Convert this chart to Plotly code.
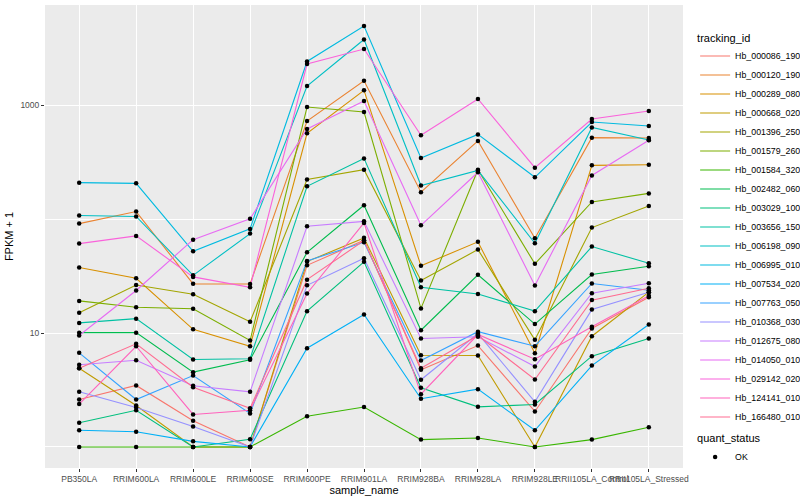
import plotly.graph_objects as go

samples = ["PB350LA", "RRIM600LA", "RRIM600LE", "RRIM600SE", "RRIM600PE", "RRIM901LA",
           "RRIM928BA", "RRIM928LA", "RRIM928LE", "RRII105LA_Control", "RRII105LA_Stressed"]

tracking_ids = ["Hb_000086_190", "Hb_000120_190", "Hb_000289_080", "Hb_000668_020", "Hb_001396_250",
                "Hb_001579_260", "Hb_001584_320", "Hb_002482_060", "Hb_003029_100", "Hb_003656_150",
                "Hb_006198_090", "Hb_006995_010", "Hb_007534_020", "Hb_007763_050", "Hb_010368_030",
                "Hb_012675_080", "Hb_014050_010", "Hb_029142_020", "Hb_124141_010", "Hb_166480_010"]

colors = ["#F8766D", "#EA8331", "#D89000", "#C09B00", "#A3A500", "#7CAE00", "#39B600", "#00BB4E",
          "#00BF7D", "#00C1A3", "#00BFC4", "#00BAE0", "#00B0F6", "#35A2FF", "#9590FF", "#C77CFF",
          "#E76BF3", "#FA62DB", "#FF62BC", "#FF6C91"]

# FPKM + 1, one list per tracking_id, in sample order
Hb_000086_190 = [2.61, 3.47, 1.70, 1.0, 39.4, 65.4, 4.76, 7.78, 2.05, 11.0, 20.7]
Hb_000120_190 = [91.7, 117, 27.1, 27.0, 731, 1651, 173, 488, 68.1, 522, 518]
Hb_000289_080 = [37.7, 30.3, 10.8, 7.67, 569, 1358, 39.0, 63.4, 6.66, 298, 302]
Hb_000668_020 = [4.92, 2.31, 1.0, 1.0, 42.5, 68.7, 6.40, 6.36, 1.0, 9.40, 22.9]
Hb_001396_250 = [15.1, 26.5, 22.0, 12.6, 224, 273, 29.0, 54.2, 8.73, 84.6, 131]
Hb_001579_260 = [19.2, 16.9, 16.4, 8.61, 970, 877, 16.5, 273, 40.6, 142, 169]
Hb_001584_320 = [1.0, 1.0, 1.0, 1.0, 1.86, 2.24, 1.16, 1.20, 1.0, 1.16, 1.49]
Hb_002482_060 = [10.1, 10.1, 4.54, 5.83, 51.3, 133, 10.6, 32.5, 12.0, 32.7, 38.7]
Hb_003029_100 = [1.63, 2.10, 1.0, 1.17, 15.6, 42.3, 3.31, 2.25, 2.36, 6.27, 8.97]
Hb_003656_150 = [12.3, 13.4, 5.87, 5.95, 195, 343, 25.3, 22.1, 15.6, 57.6, 41.1]
Hb_006198_090 = [108, 106, 32.2, 74.9, 1483, 3802, 198, 269, 61.6, 642, 498]
Hb_006995_010 = [210, 207, 52.4, 82.4, 2438, 4989, 346, 557, 234, 716, 661]
Hb_007534_020 = [1.40, 1.36, 1.12, 1.0, 7.37, 14.6, 2.65, 3.22, 1.40, 5.19, 11.9]
Hb_007763_050 = [6.71, 2.61, 4.24, 1.97, 43.1, 62.8, 5.75, 10.3, 7.67, 27.3, 23.8]
Hb_010368_030 = [3.05, 2.22, 1.51, 1.0, 26.3, 45.5, 3.89, 9.92, 2.49, 16.1, 22.9]
Hb_012675_080 = [5.27, 5.78, 3.45, 3.05, 86.8, 96.0, 8.97, 9.28, 5.09, 22.4, 27.4]
Hb_014050_010 = [9.53, 23.7, 66.3, 101, 622, 1096, 88.6, 259, 26.2, 243, 495]
Hb_029142_020 = [61.2, 71.5, 31.2, 25.3, 2314, 3133, 547, 1140, 284, 761, 895]
Hb_124141_010 = [2.38, 7.67, 1.93, 2.10, 22.3, 93.0, 2.91, 9.72, 5.90, 11.4, 21.3]
Hb_166480_010 = [4.92, 8.05, 3.35, 2.19, 29.5, 65.0, 4.92, 9.53, 3.91, 19.5, 24.8]

series = [Hb_000086_190, Hb_000120_190, Hb_000289_080, Hb_000668_020, Hb_001396_250,
          Hb_001579_260, Hb_001584_320, Hb_002482_060, Hb_003029_100, Hb_003656_150,
          Hb_006198_090, Hb_006995_010, Hb_007534_020, Hb_007763_050, Hb_010368_030,
          Hb_012675_080, Hb_014050_010, Hb_029142_020, Hb_124141_010, Hb_166480_010]

quant_status = "OK"

FONT = "Liberation Sans, Arial, Helvetica, sans-serif"

fig = go.Figure()
for name, col, vals in zip(tracking_ids, colors, series):
    fig.add_trace(go.Scatter(x=samples, y=vals, mode="lines", name=name,
                             line=dict(color=col, width=1.1), legend="legend"))

px_x, px_y = [], []
for vals in series:
    px_x.extend(samples)
    px_y.extend(vals)
fig.add_trace(go.Scatter(x=px_x, y=px_y, mode="markers", name=quant_status,
                         marker=dict(color="black", size=4.5), legend="legend2"))

fig.update_layout(
    width=800, height=500,
    margin=dict(l=45, r=117, t=5, b=32, autoexpand=False),
    paper_bgcolor="white", plot_bgcolor="#EBEBEB",
    font=dict(family=FONT, size=9, color="black"),
    xaxis=dict(type="category", categoryorder="array", categoryarray=samples,
               range=[-0.6, len(samples) - 0.4], showgrid=True, gridcolor="white", gridwidth=1.1,
               zeroline=False, showline=False, ticks="outside", ticklen=3, tickcolor="#333333",
               tickangle=0, tickfont=dict(size=8.5, color="#4D4D4D"),
               title=dict(text="sample_name", font=dict(size=11), standoff=2), automargin=False),
    yaxis=dict(type="log", range=[-0.185, 3.883], tickvals=[10, 1000], ticktext=["10", "1000"],
               showgrid=True, gridcolor="white", gridwidth=1.1, zeroline=False, showline=False,
               ticks="outside", ticklen=3, tickcolor="#333333",
               tickfont=dict(size=8.5, color="#4D4D4D"),
               minor=dict(tickvals=[1, 100], showgrid=True, gridcolor="white", gridwidth=0.55, ticks=""),
               title=dict(text="FPKM + 1", font=dict(size=11), standoff=4), automargin=False),
    legend=dict(title=dict(text="tracking_id", font=dict(size=11)), x=1.019, xanchor="left",
                y=0.952, yanchor="top", font=dict(size=8.8), bgcolor="rgba(0,0,0,0)",
                itemwidth=30, tracegroupgap=0),
    legend2=dict(title=dict(text="quant_status", font=dict(size=11)), x=1.019, xanchor="left",
                 y=0.086, yanchor="top", font=dict(size=8.8), bgcolor="rgba(0,0,0,0)", itemwidth=30),
)

fig.write_html("out.html", config={"displayModeBar": False},
               post_script="document.body.style.margin='0px';")
